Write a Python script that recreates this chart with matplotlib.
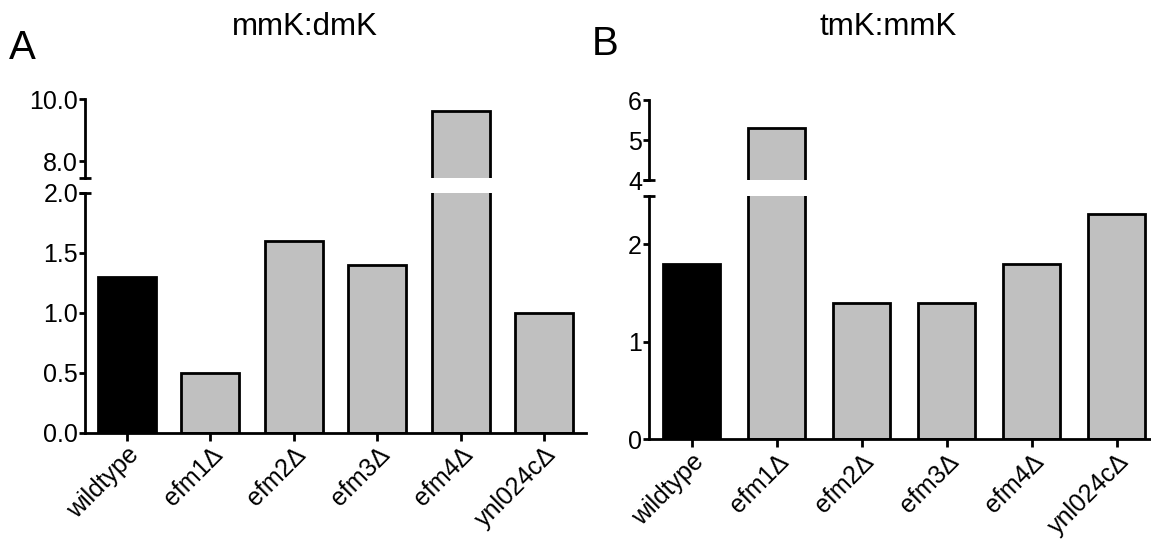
import numpy as np
import matplotlib
matplotlib.use('Agg')
import matplotlib.pyplot as plt

plt.rcParams['font.family'] = ['Liberation Sans', 'DejaVu Sans']

# data
strains = ['wildtype', 'efm1Δ', 'efm2Δ', 'efm3Δ', 'efm4Δ', 'ynl024cΔ']
mmk_dmk = [1.3, 0.5, 1.6, 1.4, 9.63, 1.0]
tmk_mmk = [1.8, 5.3, 1.4, 1.4, 1.8, 2.31]
colors = ['black', '#c0c0c0', '#c0c0c0', '#c0c0c0', '#c0c0c0', '#c0c0c0']

W, H = 1151, 541
fig = plt.figure(figsize=(W / 100, H / 100), dpi=100)


def px_axes(left, right, top, bottom):
    return fig.add_axes([left / W, 1 - bottom / H, (right - left) / W, (bottom - top) / H])


def style(ax, lower):
    for s in ['top', 'right']:
        ax.spines[s].set_visible(False)
    ax.spines['left'].set_linewidth(2)
    ax.spines['bottom'].set_linewidth(2)
    ax.tick_params(axis='y', length=4, width=2, labelsize=18, pad=1)
    ax.tick_params(axis='x', length=6, width=2, labelsize=18, pad=1)
    if not lower:
        ax.spines['bottom'].set_visible(False)
        ax.tick_params(axis='x', bottom=False, labelbottom=False)
    ax.patch.set_alpha(0)


def panel(vals, width, left, right, upper_box, lower_box, upper_lim, lower_lim,
          upper_ticks, lower_ticks, fmt):
    x = np.arange(len(strains))
    axu = px_axes(left, right, *upper_box)
    axl = px_axes(left, right, *lower_box)
    for ax, lim, ticks, lower in [(axu, upper_lim, upper_ticks, False),
                                  (axl, lower_lim, lower_ticks, True)]:
        ax.bar(x, vals, width=width, color=colors, edgecolor='black', linewidth=2)
        ax.set_xlim(-0.5, 5.5)
        ax.set_ylim(*lim)
        ax.set_yticks(ticks)
        ax.set_yticklabels([fmt.format(t) for t in ticks])
        style(ax, lower)
    # end caps at the break
    axu.plot([0], [0], marker='_', markersize=8, mew=2, color='black',
             transform=axu.transAxes, clip_on=False)
    axl.plot([0], [1], marker='_', markersize=8, mew=2, color='black',
             transform=axl.transAxes, clip_on=False)
    axl.set_xticks(x)
    axl.set_xticklabels(strains, rotation=45, ha='right', rotation_mode='anchor')
    return axu, axl


panel(mmk_dmk, 0.70, 85, 586, (99.3, 178.3), (192.7, 432.7), (7.45, 10.0), (0, 2.0),
      [8.0, 10.0], [0.0, 0.5, 1.0, 1.5, 2.0], '{:.1f}')
panel(tmk_mmk, 0.67, 649, 1159, (100, 180), (195.7, 439.3), (4, 6), (0, 2.5),
      [4, 5, 6], [0, 1, 2], '{:.0f}')

fig.text(305 / W, 1 - 27 / H, 'mmK:dmK', fontsize=22.5, ha='center', va='center')
fig.text(888 / W, 1 - 27 / H, 'tmK:mmK', fontsize=22.5, ha='center', va='center')
fig.text(9 / W, 1 - 48 / H, 'A', fontsize=29, ha='left', va='center')
fig.text(592 / W, 1 - 44 / H, 'B', fontsize=29, ha='left', va='center')

fig.savefig('out.png', dpi=100)
